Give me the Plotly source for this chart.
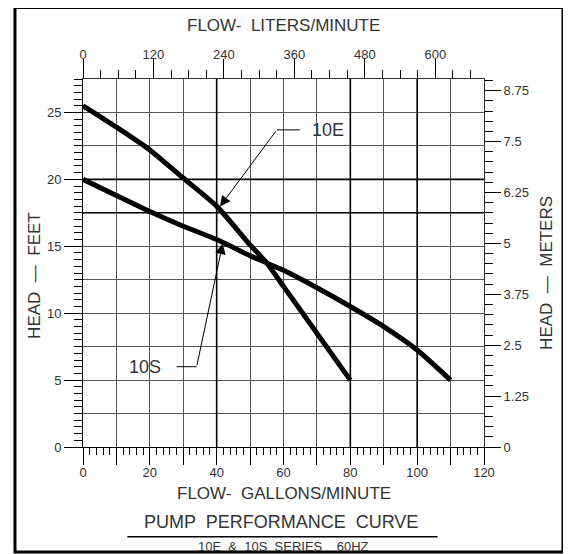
import plotly.graph_objects as go

# ---------------- data ----------------
gpm_10e = [0, 5, 10, 20, 30, 40, 50, 55, 60, 70, 80]
head_10e = [25.5, 24.7, 23.9, 22.2, 20.1, 18.0, 15.1, 13.75, 12.0, 8.5, 5.0]

gpm_10s = [0, 10, 20, 30, 40, 50, 55, 60, 70, 80, 90, 100, 110]
head_10s = [20.0, 18.8, 17.6, 16.5, 15.5, 14.3, 13.75, 13.2, 11.9, 10.5, 9.0, 7.25, 5.0]

gpm_ticks = [0, 10, 20, 30, 40, 50, 60, 70, 80, 90, 100, 110, 120]
gpm_labels = ["0", "", "20", "", "40", "", "60", "", "80", "", "100", "", "120"]
lpm_ticks = [0, 120, 240, 360, 480, 600]
lpm_labels = ["0", "120", "240", "360", "480", "600"]
feet_ticks = [0, 5, 10, 15, 20, 25]
feet_labels = ["0", "5", "10", "15", "20", "25"]
meter_ticks = [0, 1.25, 2.5, 3.75, 5, 6.25, 7.5, 8.75]
meter_labels = ["0", "1.25", "2.5", "3.75", "5", "6.25", "7.5", "8.75"]
bold_grid_gpm = [40, 80, 100]
bold_grid_feet = [17.5, 20]

callout_text = ["10E", "10S"]
callout_tip_x = [41.0, 41.8]
callout_tip_y = [17.97, 15.2]
callout_elbow_x = [58.0, 34.0]
callout_elbow_y = [23.7, 6.0]
callout_end_x = [64.9, 28.0]

FONT = "Liberation Sans"
TXT = "#333333"
GRID = "#555555"

fig = go.Figure()

fig.add_trace(go.Scatter(x=gpm_10e, y=head_10e, mode="lines", name="10E",
                         line=dict(color="black", width=5, shape="spline", smoothing=0.6),
                         showlegend=False, hoverinfo="skip"))
fig.add_trace(go.Scatter(x=gpm_10s, y=head_10s, mode="lines", name="10S",
                         line=dict(color="black", width=5, shape="spline", smoothing=0.6),
                         showlegend=False, hoverinfo="skip"))
# invisible traces to activate secondary axes
fig.add_trace(go.Scatter(x=[0], y=[0], xaxis="x2", yaxis="y2", mode="markers",
                         marker=dict(opacity=0), showlegend=False, hoverinfo="skip"))
fig.add_trace(go.Scatter(x=[0], y=[0], xaxis="x", yaxis="y3", mode="markers",
                         marker=dict(opacity=0), showlegend=False, hoverinfo="skip"))

tickfont = dict(family=FONT, size=13, color=TXT)

# the page body adds an 8px offset, so the figure is 8px smaller
fig.update_layout(
    width=563, height=546,
    margin=dict(l=75, r=87, t=71, b=107, pad=0),
    paper_bgcolor="white", plot_bgcolor="white",
    showlegend=False,
    xaxis=dict(range=[0, 120], tickvals=gpm_ticks, ticktext=gpm_labels,
               ticks="outside", ticklen=17, tickwidth=1, tickcolor="black",
               showgrid=True, gridcolor=GRID, gridwidth=1,
               showline=True, linecolor="black", linewidth=1,
               zeroline=False, tickfont=tickfont, fixedrange=True,
               ticklabelstandoff=-4,
               minor=dict(dtick=2, tick0=0, ticks="outside", ticklen=7,
                          tickcolor="black", tickwidth=1, showgrid=False)),
    xaxis2=dict(range=[0, 683], overlaying="x", side="top", anchor="y",
                tickvals=lpm_ticks, ticktext=lpm_labels,
                ticks="outside", ticklen=19, tickwidth=1, tickcolor="black",
                showgrid=False, showline=True, linecolor="#333333", linewidth=1,
                zeroline=False, tickfont=tickfont, fixedrange=True,
                ticklabelstandoff=-5,
                minor=dict(dtick=30, tick0=0, ticks="outside", ticklen=8,
                           tickcolor="black", tickwidth=1, showgrid=False)),
    yaxis=dict(range=[0, 27.5], tickvals=feet_ticks, ticktext=feet_labels,
               ticks="outside", ticklen=18, tickwidth=1, tickcolor="black",
               showgrid=False, showline=True, linecolor="black", linewidth=1,
               zeroline=False, tickfont=tickfont, fixedrange=True,
               minor=dict(dtick=0.5, tick0=0, ticks="outside", ticklen=8,
                          tickcolor="black", tickwidth=1, showgrid=False)),
    yaxis2=dict(range=[0, 9.036], overlaying="y", side="right", anchor="x",
                tickvals=meter_ticks, ticktext=meter_labels,
                ticks="outside", ticklen=16, tickwidth=1, tickcolor="black",
                showgrid=False, showline=True, linecolor="#333333", linewidth=1,
                zeroline=False, tickfont=tickfont, fixedrange=True,
                minor=dict(dtick=0.25, tick0=0, ticks="outside", ticklen=8,
                           tickcolor="black", tickwidth=1, showgrid=False)),
    yaxis3=dict(range=[0, 27.5], overlaying="y", side="left", anchor="x",
                dtick=2.5, tick0=0, showticklabels=False, ticks="",
                showgrid=True, gridcolor=GRID, gridwidth=1,
                showline=False, zeroline=False, fixedrange=True),
)

# emphasised grid lines
for g in bold_grid_gpm:
    fig.add_shape(type="line", xref="x", yref="paper", x0=g, x1=g, y0=0, y1=1,
                  line=dict(color="black", width=1.6), layer="above")
for g in bold_grid_feet:
    fig.add_shape(type="line", xref="paper", yref="y", x0=0, x1=1, y0=g, y1=g,
                  line=dict(color="black", width=1.6), layer="above")

# callouts
for i, txt in enumerate(callout_text):
    fig.add_shape(type="line", xref="x", yref="y",
                  x0=callout_elbow_x[i], x1=callout_end_x[i],
                  y0=callout_elbow_y[i], y1=callout_elbow_y[i],
                  line=dict(color="black", width=1))
    fig.add_annotation(x=callout_tip_x[i], y=callout_tip_y[i], xref="x", yref="y",
                       ax=callout_elbow_x[i], ay=callout_elbow_y[i], axref="x", ayref="y",
                       text="", showarrow=True, arrowhead=2, arrowsize=2.1,
                       arrowwidth=1, arrowcolor="black", standoff=0)
    left = callout_end_x[i] > callout_elbow_x[i]
    fig.add_annotation(x=callout_end_x[i] + (3 if left else -4), y=callout_elbow_y[i],
                       xref="x", yref="y", text=txt, showarrow=False,
                       xanchor="left" if left else "right", yanchor="middle",
                       font=dict(family=FONT, size=18, color=TXT))

# titles
title_font = dict(family=FONT, size=17, color=TXT)
fig.add_annotation(x=0.5, y=1.145, xref="paper", yref="paper",
                   text="FLOW-  LITERS/MINUTE", showarrow=False,
                   xanchor="center", yanchor="middle", font=title_font)
fig.add_annotation(x=0.5, y=-0.1251, xref="paper", yref="paper",
                   text="FLOW-  GALLONS/MINUTE", showarrow=False,
                   xanchor="center", yanchor="middle", font=title_font)
fig.add_annotation(x=-0.1197, y=0.465, xref="paper", yref="paper",
                   text="HEAD  —  FEET", showarrow=False, textangle=-90,
                   xanchor="center", yanchor="middle", font=title_font)
fig.add_annotation(x=1.157, y=0.473, xref="paper", yref="paper",
                   text="HEAD  —  METERS", showarrow=False, textangle=-90,
                   xanchor="center", yanchor="middle", font=title_font)
fig.add_annotation(x=0.495, y=-0.2032, xref="paper", yref="paper",
                   text="PUMP  PERFORMANCE  CURVE", showarrow=False,
                   xanchor="center", yanchor="middle",
                   font=dict(family=FONT, size=18, color=TXT))
fig.add_shape(type="line", xref="paper", yref="paper",
              x0=0.1107, x1=0.8843, y0=-0.2439, y1=-0.2439,
              line=dict(color="black", width=1.5))
fig.add_annotation(x=0.5, y=-0.2715, xref="paper", yref="paper",
                   text="10E  &  10S  SERIES    60HZ", showarrow=False,
                   xanchor="center", yanchor="middle",
                   font=dict(family=FONT, size=13, color=TXT))

# outer frame
fig.add_shape(type="rect", xref="paper", yref="paper",
              x0=-0.1696, x1=1.197, y0=-0.2855, y1=1.194,
              line=dict(color="black", width=3), fillcolor="rgba(0,0,0,0)")

fig.write_html("out.html")
